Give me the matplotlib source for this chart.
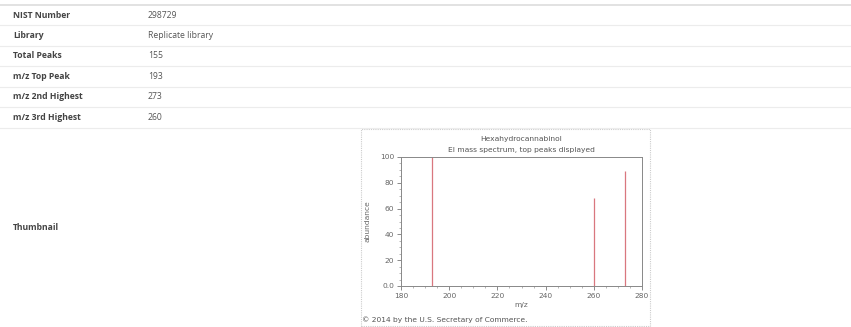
import matplotlib
matplotlib.use("Agg")
import matplotlib.pyplot as plt
from matplotlib.lines import Line2D
from matplotlib.patches import Rectangle
from matplotlib.ticker import MultipleLocator

# ---- data ----
row_labels = ["NIST Number", "Library", "Total Peaks", "m/z Top Peak", "m/z 2nd Highest", "m/z 3rd Highest"]
row_values = ["298729", "Replicate library", "155", "193", "273", "260"]
peak_mz = [193, 260, 273]
peak_abund = [100, 68, 89]
x_ticks = [180, 200, 220, 240, 260, 280]
y_ticks = [0, 20, 40, 60, 80, 100]
y_tick_labels = ["0.0", "20", "40", "60", "80", "100"]

W, H = 851, 327
fig = plt.figure(figsize=(W / 100, H / 100), dpi=100)
fig.patch.set_facecolor("white")

def fx(px):
    return px / W

def fy(py):
    return 1 - py / H

# table rows
row_centers = [15, 35.5, 56, 76.5, 97, 117.5]
row_lines = [25, 45.5, 66, 86.5, 107, 127.5]
fig.add_artist(Line2D([0, 1], [fy(4.5), fy(4.5)], color="#dddddd", lw=1.2))
for yl in row_lines:
    fig.add_artist(Line2D([0, 1], [fy(yl), fy(yl)], color="#ececec", lw=0.8))
for lab, val, yc in zip(row_labels, row_values, row_centers):
    fig.text(fx(13), fy(yc), lab, fontsize=6.2, fontweight="bold", color="#444444",
             va="center", ha="left", family="Open Sans")
    fig.text(fx(148), fy(yc), val, fontsize=6.2, color="#555555",
             va="center", ha="left", family="Open Sans")
fig.text(fx(13), fy(227), "Thumbnail", fontsize=6.2, fontweight="bold", color="#444444",
         va="center", ha="left", family="Open Sans")

# thumbnail box
fig.add_artist(Rectangle((fx(361), fy(326)), fx(650) - fx(361), fy(129) - fy(326),
                         transform=fig.transFigure, fill=True, facecolor="white",
                         edgecolor="#cccccc", lw=0.8, ls=(0, (1, 1)), zorder=1))

ax = fig.add_axes([fx(401), fy(286), fx(642) - fx(401), fy(157) - fy(286)])
ax.set_zorder(2)
ax.vlines(peak_mz, 0, peak_abund, colors="#d9777f", lw=0.9)
ax.set_xlim(180, 280)
ax.set_ylim(0, 100)
ax.set_xticks(x_ticks)
ax.set_yticks(y_ticks)
ax.set_yticklabels(y_tick_labels)
ax.xaxis.set_minor_locator(MultipleLocator(5))
ax.yaxis.set_minor_locator(MultipleLocator(5))
ax.tick_params(axis="both", which="major", labelsize=5.4, labelcolor="#666666",
               color="#777777", length=3, width=0.6, pad=2)
ax.tick_params(axis="both", which="minor", color="#999999", length=1.5, width=0.5)
for s in ax.spines.values():
    s.set_color("#888888")
    s.set_linewidth(0.7)
ax.set_xlabel("m/z", fontsize=5.4, color="#666666", labelpad=2.5)
ax.set_ylabel("abundance", fontsize=5.4, color="#666666", labelpad=7)

fig.text(fx(521), fy(139), "Hexahydrocannabinol", fontsize=5.4, color="#555555",
         ha="center", va="center")
fig.text(fx(521), fy(150), "EI mass spectrum, top peaks displayed", fontsize=5.4,
         color="#555555", ha="center", va="center")
fig.text(fx(362), fy(320), "\u00a9 2014 by the U.S. Secretary of Commerce.", fontsize=5.4,
         color="#555555", ha="left", va="center")

fig.savefig("out.png", dpi=100, facecolor="white")
